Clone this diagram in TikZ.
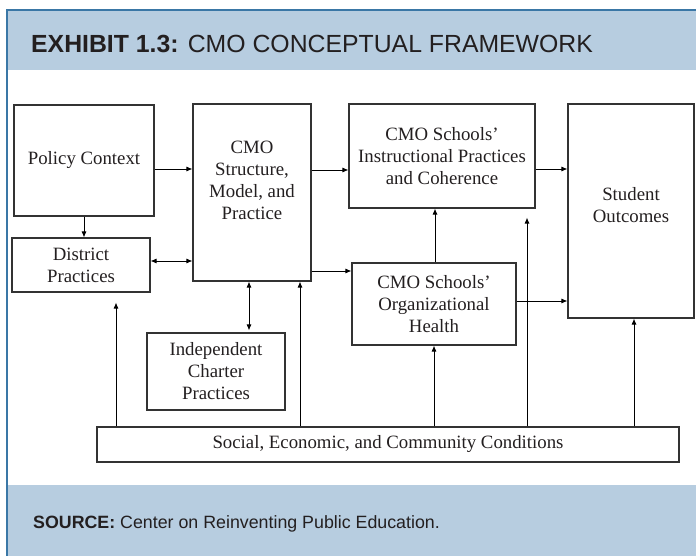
\documentclass[tikz,border=0pt]{standalone}
\usepackage{fontspec}
\newfontfamily\headfont{Liberation Sans}
\newfontfamily\boxfont[Ligatures=TeX]{Liberation Serif}
\usetikzlibrary{arrows.meta}

\definecolor{bandblue}{HTML}{B7CDE0}
\definecolor{rimblue}{HTML}{3A77A6}
\definecolor{inkgray}{HTML}{333333}
\definecolor{textgray}{HTML}{231F20}

\tikzset{
    box/.style={rectangle, draw=inkgray, line width=1.1pt, inner sep=0pt, align=center,
        text=textgray, font=\boxfont\fontsize{18.8}{22}\selectfont},
    boxtext/.style={inner sep=0pt, align=center, text=textgray, font=\boxfont\fontsize{18.8}{22}\selectfont},
    arr/.style={draw=black, line width=0.9pt, -{Latex[length=6pt,width=5pt]}},
    dblarr/.style={arr, {Latex[length=6pt,width=5pt]}-{Latex[length=6pt,width=5pt]}}
}

\begin{document}
\begin{tikzpicture}[x=1pt, y=-1pt]
        \useasboundingbox (0,0) rectangle (696,556);

        % frame, header and footer
        \fill[bandblue] (7,10) rectangle (696,70);
        \fill[bandblue] (7,485) rectangle (696,556);
        \draw[rimblue, line width=1.2pt] (696,10) -- (7,10) -- (7,556);
        \node[anchor=base west, inner sep=0pt, text=textgray, font=\headfont\fontsize{24.8}{28}\selectfont] (title) at (31,53)
            {\textbf{EXHIBIT 1.3:} CMO CONCEPTUAL FRAMEWORK};
        \node[anchor=base west, inner sep=0pt, text=textgray, font=\headfont\fontsize{17.8}{22}\selectfont] (source) at (33,528)
            {\textbf{SOURCE:} Center on Reinventing Public Education.};

        % boxes
        \node[box, minimum width=140pt, minimum height=111pt] (pol) at (84,160.5) {Policy Context};
        \node[box, minimum width=138pt, minimum height=54pt] (dist) at (81,265) {District\\Practices};
        \node[box, minimum width=118pt, minimum height=177pt] (cmo) at (252,192.5) {};
        \node[boxtext] (cmotext) at (252,180) {CMO\\Structure,\\Model, and\\Practice};
        \node[box, minimum width=186pt, minimum height=104pt] (instr) at (442,156) {CMO Schools’\\Instructional Practices\\and Coherence};
        \node[box, minimum width=126pt, minimum height=214pt] (stud) at (631,211) {};
        \node[boxtext] (studtext) at (631,205) {Student\\Outcomes};
        \node[box, minimum width=164pt, minimum height=82pt] (org) at (434,304) {CMO Schools’\\Organizational\\Health};
        \node[box, minimum width=138pt, minimum height=77pt] (indep) at (216,371.5) {Independent\\Charter\\Practices};
        \node[box, minimum width=582pt, minimum height=35pt] (soc) at (388,444.5) {Social, Economic, and Community Conditions};

        % connectors between boxes
        \draw[arr] ([yshift=-8.5pt]pol.east) -- ([yshift=23.5pt]cmo.west);
        \draw[arr] (pol.south) -- ([xshift=3pt]dist.north);
        \draw[dblarr] ([yshift=4pt]dist.east) -- ([yshift=-68.5pt]cmo.west);
        \draw[arr] ([yshift=22.5pt]cmo.east) -- ([yshift=-14pt]instr.west);
        \draw[arr] ([yshift=-78.5pt]cmo.east) -- ([yshift=33pt]org.west);
        \draw[arr] ([yshift=-13pt]instr.east) -- ([yshift=42pt]stud.west);
        \draw[arr] ([xshift=1pt]org.north) -- ([xshift=-7pt]instr.south);
        \draw[arr] ([yshift=3pt]org.east) -- ([yshift=-90pt]stud.west);
        \draw[dblarr] ([xshift=-3pt]cmo.south) -- ([xshift=33pt, yshift=2pt]indep.north);

        % conditions feeding upward
        \draw[arr] ([xshift=-272pt]soc.north) -- ([xshift=35pt, yshift=-10pt]dist.south);
        \draw[arr] ([xshift=-88pt]soc.north) -- ([xshift=48pt]cmo.south);
        \draw[arr] ([xshift=46pt]soc.north) -- (org.south);
        \draw[arr] ([xshift=139pt]soc.north) -- ([xshift=85pt, yshift=-9pt]instr.south);
        \draw[arr] ([xshift=246pt]soc.north) -- ([xshift=3pt]stud.south);
    \end{tikzpicture}
\end{document}
